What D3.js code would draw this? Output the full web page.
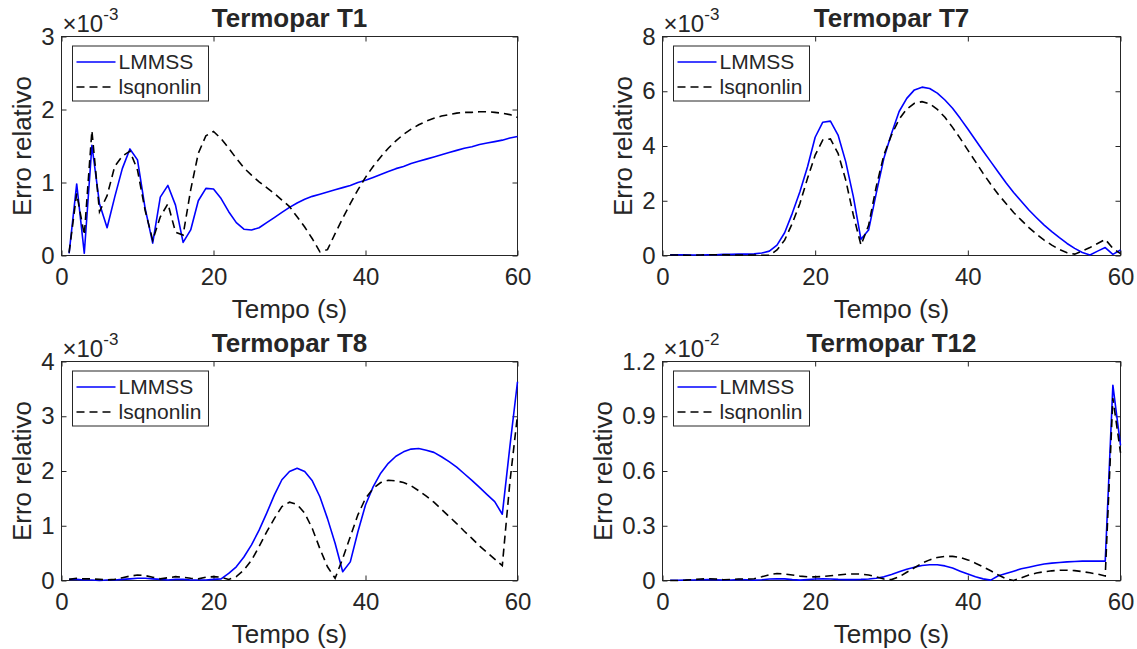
<!DOCTYPE html>
<html>
<head>
<meta charset="utf-8">
<script src="https://cdn.jsdelivr.net/npm/d3@7"></script>
<style>
    body { margin: 0; background: #ffffff; }
    text { font-family: "Liberation Sans", Arial, Helvetica, sans-serif; fill: #262626; }
</style>
</head>
<body>
<div id="chart-container"></div>
<script>
// Time (s)
var tempo = [1, 2, 3, 4, 5, 6, 7, 8, 9, 10, 11, 12, 13, 14, 15, 16, 17, 18, 19, 20,
    21, 22, 23, 24, 25, 26, 27, 28, 29, 30, 31, 32, 33, 34, 35, 36, 37, 38, 39, 40,
    41, 42, 43, 44, 45, 46, 47, 48, 49, 50, 51, 52, 53, 54, 55, 56, 57, 58, 59, 60];

var seriesNames = ["LMMSS", "lsqnonlin"];
var xTicks = [0, 20, 40, 60];

// Termopar T1 (x 1e-3)
var t1Lmmss = [0.03, 0.98, 0.03, 1.51, 0.71, 0.38, 0.80, 1.19, 1.46, 1.31,
    0.65, 0.17, 0.80, 0.96, 0.69, 0.18, 0.35, 0.75, 0.92, 0.91,
    0.78, 0.60, 0.45, 0.36, 0.35, 0.38, 0.45, 0.52, 0.59, 0.66,
    0.72, 0.77, 0.81, 0.84, 0.87, 0.90, 0.93, 0.96, 1.00, 1.03,
    1.07, 1.11, 1.15, 1.19, 1.22, 1.26, 1.29, 1.32, 1.35, 1.38,
    1.41, 1.44, 1.47, 1.49, 1.52, 1.54, 1.56, 1.58, 1.61, 1.63];
var t1Lsq = [0.04, 0.85, 0.28, 1.71, 0.60, 0.82, 1.22, 1.36, 1.43, 1.17,
    0.62, 0.21, 0.53, 0.71, 0.32, 0.28, 0.90, 1.40, 1.64, 1.70,
    1.60, 1.47, 1.33, 1.20, 1.10, 1.01, 0.93, 0.85, 0.76, 0.67,
    0.53, 0.39, 0.23, 0.05, 0.08, 0.30, 0.51, 0.71, 0.90, 1.07,
    1.22, 1.35, 1.47, 1.57, 1.66, 1.73, 1.79, 1.84, 1.88, 1.91,
    1.93, 1.95, 1.96, 1.96, 1.97, 1.97, 1.96, 1.95, 1.93, 1.89];
var t1YTicks = [0, 1, 2, 3];

// Termopar T7 (x 1e-3)
var t7Lmmss = [0.03, 0.03, 0.03, 0.02, 0.02, 0.03, 0.03, 0.04, 0.04, 0.05,
    0.05, 0.06, 0.09, 0.16, 0.38, 0.83, 1.54, 2.33, 3.24, 4.32,
    4.87, 4.91, 4.40, 3.43, 2.15, 0.59, 0.93, 2.27, 3.55, 4.46,
    5.26, 5.74, 6.05, 6.15, 6.10, 5.93, 5.68, 5.38, 5.01, 4.62,
    4.22, 3.82, 3.43, 3.04, 2.66, 2.30, 1.98, 1.66, 1.38, 1.11,
    0.87, 0.65, 0.44, 0.26, 0.11, 0.02, 0.16, 0.29, 0.04, 0.20];
var t7Lsq = [0.02, 0.02, 0.01, 0.01, 0.02, 0.03, 0.03, 0.03, 0.02, 0.02,
    0.02, 0.02, 0.01, 0.01, 0.20, 0.56, 1.17, 1.90, 2.82, 3.67,
    4.22, 4.26, 3.73, 2.76, 1.48, 0.38, 1.10, 2.51, 3.67, 4.40,
    4.98, 5.35, 5.56, 5.62, 5.54, 5.34, 5.05, 4.68, 4.28, 3.85,
    3.43, 3.00, 2.60, 2.23, 1.90, 1.57, 1.29, 1.02, 0.78, 0.56,
    0.38, 0.22, 0.10, 0.05, 0.17, 0.29, 0.44, 0.59, 0.26, 0.07];
var t7YTicks = [0, 2, 4, 6, 8];

// Termopar T8 (x 1e-3)
var t8Lmmss = [0.02, 0.02, 0.01, 0.01, 0.00, 0.01, 0.01, 0.02, 0.03, 0.04,
    0.04, 0.03, 0.02, 0.01, 0.02, 0.02, 0.01, 0.01, 0.01, 0.02,
    0.03, 0.13, 0.25, 0.43, 0.65, 0.92, 1.23, 1.56, 1.84, 1.99,
    2.05, 1.99, 1.82, 1.53, 1.13, 0.68, 0.16, 0.34, 0.89, 1.38,
    1.71, 1.96, 2.14, 2.27, 2.35, 2.40, 2.41, 2.38, 2.34, 2.26,
    2.17, 2.07, 1.95, 1.83, 1.70, 1.57, 1.44, 1.21, 2.45, 3.63];
var t8Lsq = [0.02, 0.04, 0.03, 0.03, 0.02, 0.01, 0.02, 0.05, 0.08, 0.10,
    0.09, 0.06, 0.03, 0.05, 0.07, 0.06, 0.04, 0.03, 0.06, 0.07,
    0.06, 0.02, 0.07, 0.19, 0.37, 0.62, 0.89, 1.13, 1.35, 1.43,
    1.39, 1.23, 0.95, 0.58, 0.25, 0.04, 0.40, 0.80, 1.20, 1.50,
    1.68, 1.79, 1.83, 1.82, 1.79, 1.73, 1.64, 1.54, 1.43, 1.30,
    1.17, 1.04, 0.90, 0.77, 0.63, 0.51, 0.39, 0.27, 1.80, 3.02];
var t8YTicks = [0, 1, 2, 3, 4];

// Termopar T12 (x 1e-2)
var t12Lmmss = [0.001, 0.001, 0.002, 0.003, 0.004, 0.005, 0.004, 0.002, 0.003, 0.005,
    0.004, 0.002, 0.004, 0.008, 0.010, 0.009, 0.005, 0.002, 0.005, 0.008,
    0.009, 0.008, 0.006, 0.005, 0.005, 0.006, 0.008, 0.012, 0.020, 0.033,
    0.048, 0.062, 0.073, 0.082, 0.086, 0.086, 0.080, 0.068, 0.051, 0.035,
    0.020, 0.009, 0.002, 0.026, 0.038, 0.051, 0.064, 0.073, 0.082, 0.090,
    0.095, 0.099, 0.102, 0.104, 0.106, 0.106, 0.106, 0.106, 1.070, 0.740];
var t12Lsq = [0.000, 0.000, 0.002, 0.005, 0.008, 0.010, 0.008, 0.004, 0.006, 0.008,
    0.008, 0.010, 0.020, 0.032, 0.038, 0.036, 0.030, 0.024, 0.020, 0.020,
    0.022, 0.026, 0.030, 0.034, 0.036, 0.035, 0.030, 0.020, 0.008, 0.005,
    0.020, 0.045, 0.070, 0.095, 0.113, 0.126, 0.132, 0.132, 0.126, 0.113,
    0.095, 0.075, 0.053, 0.030, 0.010, 0.000, 0.015, 0.030, 0.041, 0.048,
    0.053, 0.056, 0.056, 0.054, 0.049, 0.042, 0.035, 0.025, 1.000, 0.700];
var t12YTicks = [0, 0.3, 0.6, 0.9, 1.2];

var width = 1137, height = 649;

var svg = d3.select("#chart-container")
    .append("svg")
    .attr("width", width)
    .attr("height", height);

// one subplot
function drawPanel(p) {
    var x = d3.scaleLinear().domain([0, 60]).range([p.left, p.right]);
    var y = d3.scaleLinear().domain([0, p.yTicks[p.yTicks.length - 1]]).range([p.bottom, p.top]);

    var g = svg.append("g");

    // axes, ticks pointing inward
    var bottomAxis = g.append("g")
        .attr("transform", "translate(0," + p.bottom + ")")
        .call(d3.axisBottom(x).tickValues(xTicks).tickSize(-5).tickPadding(12).tickFormat(d3.format("d")));
    var topAxis = g.append("g")
        .attr("transform", "translate(0," + p.top + ")")
        .call(d3.axisTop(x).tickValues(xTicks).tickSize(-5).tickFormat(""));
    var leftAxis = g.append("g")
        .attr("transform", "translate(" + p.left + ",0)")
        .call(d3.axisLeft(y).tickValues(p.yTicks).tickSize(-5).tickPadding(7).tickFormat(p.fmt));
    var rightAxis = g.append("g")
        .attr("transform", "translate(" + p.right + ",0)")
        .call(d3.axisRight(y).tickValues(p.yTicks).tickSize(-5).tickFormat(""));

    [bottomAxis, topAxis, leftAxis, rightAxis].forEach(function(a) {
        a.select(".domain").remove();
        a.selectAll("line").attr("stroke", "#262626").attr("stroke-width", 1);
        a.selectAll("text").attr("font-size", 24).attr("fill", "#262626")
            .attr("font-family", "'Liberation Sans', Arial, sans-serif");
    });

    // box
    g.append("rect")
        .attr("x", p.left).attr("y", p.top)
        .attr("width", p.right - p.left).attr("height", p.bottom - p.top)
        .attr("fill", "none")
        .attr("stroke", "#262626")
        .attr("stroke-width", 1);

    // lines
    var line1 = d3.line().x(function(d, i) { return x(tempo[i]); }).y(function(d) { return y(d); });

    g.append("path")
        .datum(p.lmmss)
        .attr("fill", "none")
        .attr("stroke", "#0000ff")
        .attr("stroke-width", 1.6)
        .attr("stroke-linejoin", "round")
        .attr("d", line1);

    g.append("path")
        .datum(p.lsq)
        .attr("fill", "none")
        .attr("stroke", "#000000")
        .attr("stroke-width", 1.6)
        .attr("stroke-dasharray", "8,5")
        .attr("d", line1);

    // exponent label
    var expo = g.append("text")
        .attr("x", p.left + 1)
        .attr("y", p.top - 5)
        .attr("font-size", 24);
    expo.append("tspan").text("\u00d710");
    expo.append("tspan").attr("dy", -12).attr("font-size", 17).text(p.exp);

    // title
    g.append("text")
        .attr("x", (p.left + p.right) / 2)
        .attr("y", p.top - 10)
        .attr("text-anchor", "middle")
        .attr("font-size", 26)
        .attr("font-weight", "bold")
        .attr("fill", "#000000")
        .text(p.title);

    // axis labels
    g.append("text")
        .attr("x", (p.left + p.right) / 2)
        .attr("y", p.bottom + 62)
        .attr("text-anchor", "middle")
        .attr("font-size", 26)
        .text("Tempo (s)");

    g.append("text")
        .attr("transform", "translate(" + (p.left - p.yLabelGap) + "," + ((p.top + p.bottom) / 2) + ") rotate(-90)")
        .attr("text-anchor", "middle")
        .attr("font-size", 26)
        .text("Erro relativo");

    // legend
    var lg = g.append("g").attr("transform", "translate(" + (p.left + 11) + "," + (p.top + 9.5) + ")");
    lg.append("rect")
        .attr("width", 136).attr("height", 55)
        .attr("fill", "#ffffff")
        .attr("stroke", "#262626")
        .attr("stroke-width", 1);

    seriesNames.forEach(function(name, i) {
        var ly = 16 + i * 25;
        lg.append("line")
            .attr("x1", 4).attr("x2", 43)
            .attr("y1", ly).attr("y2", ly)
            .attr("stroke", i === 0 ? "#0000ff" : "#000000")
            .attr("stroke-width", 1.6)
            .attr("stroke-dasharray", i === 0 ? null : "8,5");
        lg.append("text")
            .attr("x", 46)
            .attr("y", ly)
            .attr("dy", "0.35em")
            .attr("font-size", 21)
            .attr("fill", "#000000")
            .text(name);
    });
}

var fmtInt = d3.format("d");
var fmtDec = function(d) { return d === 0 ? "0" : d3.format(".1f")(d); };

drawPanel({ title: "Termopar T1", left: 61.5, right: 517.5, top: 36.5, bottom: 255.5,
    lmmss: t1Lmmss, lsq: t1Lsq, yTicks: t1YTicks, fmt: fmtInt, exp: "-3", yLabelGap: 31 });
drawPanel({ title: "Termopar T7", left: 662.5, right: 1120.5, top: 36.5, bottom: 255.5,
    lmmss: t7Lmmss, lsq: t7Lsq, yTicks: t7YTicks, fmt: fmtInt, exp: "-3", yLabelGap: 31 });
drawPanel({ title: "Termopar T8", left: 61.5, right: 517.5, top: 361.5, bottom: 580.5,
    lmmss: t8Lmmss, lsq: t8Lsq, yTicks: t8YTicks, fmt: fmtInt, exp: "-3", yLabelGap: 31 });
drawPanel({ title: "Termopar T12", left: 662.5, right: 1120.5, top: 361.5, bottom: 580.5,
    lmmss: t12Lmmss, lsq: t12Lsq, yTicks: t12YTicks, fmt: fmtDec, exp: "-2", yLabelGap: 51 });
</script>
</body>
</html>
